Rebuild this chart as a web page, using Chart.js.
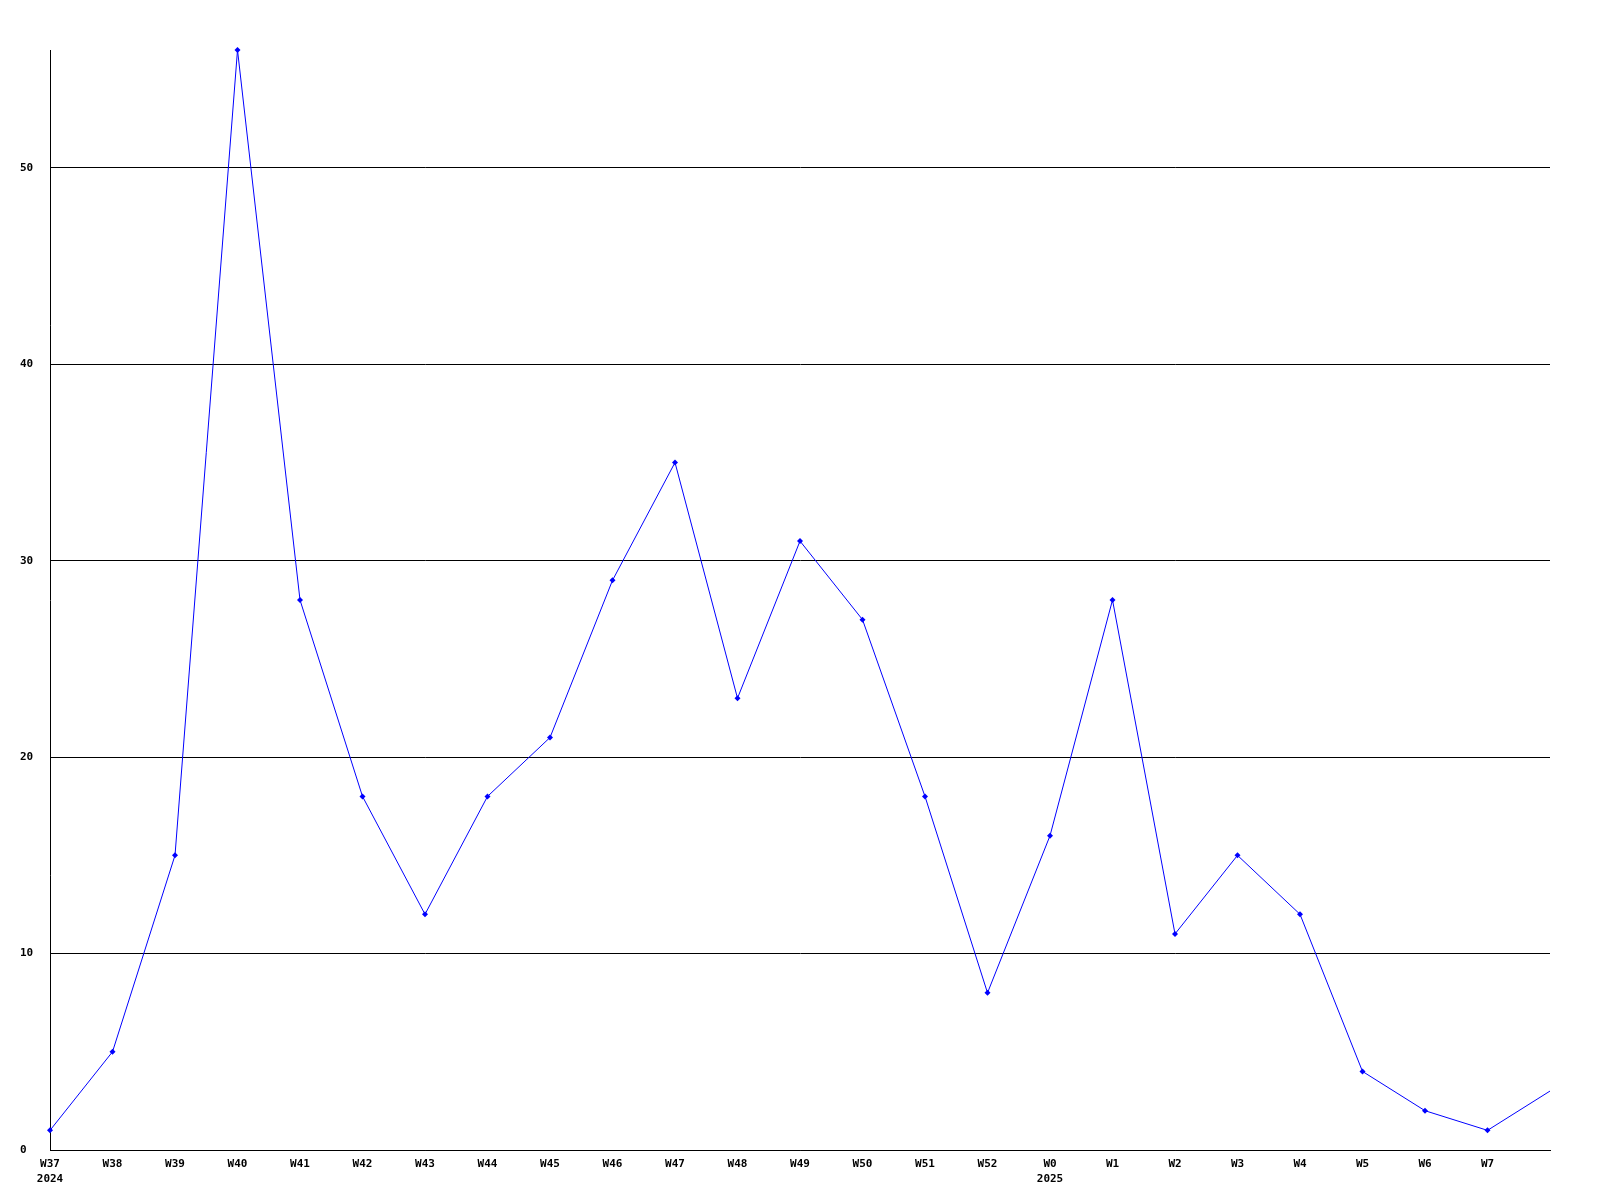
<!DOCTYPE html>
<html>
<head>
<meta charset="utf-8">
<script src="https://cdn.jsdelivr.net/npm/chart.js@4"></script>
<style>
  html, body { margin: 0; padding: 0; background: #fff; }
  #wrap { width: 1600px; height: 1200px; position: relative; }
</style>
</head>
<body>
<div id="wrap"><canvas id="weekChart"></canvas></div>
<script>
// Data
const weeks = [
    ['W37', '2024'], 'W38', 'W39', 'W40', 'W41', 'W42', 'W43', 'W44', 'W45', 'W46',
    'W47', 'W48', 'W49', 'W50', 'W51', 'W52', ['W0', '2025'], 'W1', 'W2', 'W3',
    'W4', 'W5', 'W6', 'W7', ''
];
const counts = [1, 5, 15, 56, 28, 18, 12, 18, 21, 29, 35, 23, 31, 27, 18, 8, 16, 28, 11, 15, 12, 4, 2, 1, 3];
const yTicks = [0, 10, 20, 30, 40, 50];

document.addEventListener('DOMContentLoaded', () => {
    Chart.defaults.color = '#000';
    Chart.defaults.font.family = '"DejaVu Sans Mono", monospace';
    Chart.defaults.font.size = 11;
    Chart.defaults.font.weight = 'bold';

    const ctx = document.getElementById('weekChart').getContext('2d');

    new Chart(ctx, {
        type: 'line',
        data: {
            labels: weeks,
            datasets: [{
                data: counts,
                borderColor: '#0000ff',
                backgroundColor: '#0000ff',
                borderWidth: 1,
                tension: 0,
                fill: false,
                clip: false,
                pointStyle: 'rectRot',
                // last point sits on the right edge with no marker
                pointRadius: counts.map((v, i) => i === counts.length - 1 ? 0 : 3),
                pointBorderWidth: 0
            }]
        },
        options: {
            responsive: true,
            maintainAspectRatio: false,
            animation: false,
            layout: { padding: { left: 20, right: 50, top: 50, bottom: 0 } },
            plugins: {
                legend: { display: false },
                tooltip: { enabled: false }
            },
            scales: {
                x: {
                    offset: false,
                    grid: { display: false, drawTicks: false },
                    border: { color: '#000', width: 1 },
                    ticks: {
                        autoSkip: false,
                        maxRotation: 0,
                        padding: 7,
                        font: { lineHeight: 1.35 }
                    },
                    afterFit: scale => { scale.height = 50; }
                },
                y: {
                    min: 0,
                    max: Math.max(...counts),
                    grid: { color: '#000', lineWidth: 1, drawTicks: false },
                    border: { color: '#000', width: 1 },
                    ticks: { crossAlign: 'far', padding: 0 },
                    afterBuildTicks: scale => {
                        scale.ticks = yTicks.map(v => ({ value: v }));
                    },
                    afterFit: scale => { scale.width = 30; }
                }
            }
        }
    });
});
</script>
</body>
</html>
